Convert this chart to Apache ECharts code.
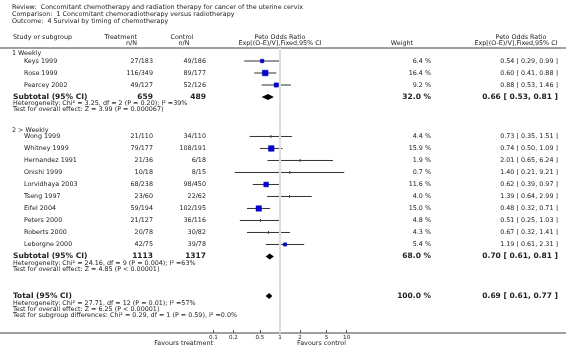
<!DOCTYPE html>
<html><head><meta charset="utf-8">
<script src="https://cdn.jsdelivr.net/npm/echarts@6/dist/echarts.min.js"></script>
<style>html,body{margin:0;padding:0;background:#fff}#c{width:566px;height:356px}</style>
</head><body><div id="c"></div>
<script>
// ---------- data ----------
const reviewTitle = 'Review:  Concomitant chemotherapy and radiation therapy for cancer of the uterine cervix';
const comparisonTitle = 'Comparison:  1 Concomitant chemoradiotherapy versus radiotherapy';
const outcomeTitle = 'Outcome:  4 Survival by timing of chemotherapy';

const groupNames = ['1 Weekly', '2 > Weekly'];
const studyGroup = [0,0,0,1,1,1,1,1,1,1,1,1,1];
const studies = ['Keys 1999','Rose 1999','Pearcey 2002','Wong 1999','Whitney 1999','Hernandez 1991','Onishi 1999','Lorvidhaya 2003','Tseng 1997','Eifel 2004','Peters 2000','Roberts 2000','Leborgne 2000'];
const treatEvents = [27,116,49,21,79,21,10,68,23,59,21,20,42];
const treatTotal = [183,349,127,110,177,36,18,238,60,194,127,78,75];
const ctrlEvents = [49,89,52,34,108,6,8,98,22,102,36,30,39];
const ctrlTotal = [186,177,126,110,191,18,15,450,62,195,116,82,78];
const weights = [6.4,16.4,9.2,4.4,15.9,1.9,0.7,11.6,4.0,15.0,4.8,4.3,5.4];
const oddsRatio = [0.54,0.60,0.88,0.73,0.74,2.01,1.40,0.62,1.39,0.48,0.51,0.67,1.19];
const ciLow = [0.29,0.41,0.53,0.35,0.50,0.65,0.21,0.39,0.64,0.32,0.25,0.32,0.61];
const ciHigh = [0.99,0.88,1.46,1.51,1.09,6.24,9.21,0.97,2.99,0.71,1.03,1.41,2.31];

const subTreat = [659,1113];
const subCtrl = [489,1317];
const subWeight = [32.0,68.0];
const subOR = [0.66,0.70];
const subLow = [0.53,0.61];
const subHigh = [0.81,0.81];
const subHet = ['Heterogeneity: Chi\u00b2 = 3.25, df = 2 (P = 0.20); I\u00b2 =39%', 'Heterogeneity: Chi\u00b2 = 24.16, df = 9 (P = 0.004); I\u00b2 =63%'];
const subTest = ['Test for overall effect: Z = 3.99 (P = 0.000067)', 'Test for overall effect: Z = 4.85 (P < 0.00001)'];

const totalLabel = 'Total (95% CI)';
const totalWeight = 100.0;
const totalOR = 0.69, totalLow = 0.61, totalHigh = 0.77;
const totalNotes = ['Heterogeneity: Chi\u00b2 = 27.71, df = 12 (P = 0.01); I\u00b2 =57%', 'Test for overall effect: Z = 6.25 (P < 0.00001)', 'Test for subgroup differences: Chi\u00b2 = 0.29, df = 1 (P = 0.59), I\u00b2 =0.0%'];

const tickValues = [0.1,0.2,0.5,1,2,5,10];
const favoursLeft = 'Favours treatment', favoursRight = 'Favours control';

// ---------- layout ----------
const W = 566, H = 356;
const gridTop = 48, gridBottomY = 333, rowPx = 12, firstRowY = 61;
const xOne = 280, pxPerDecade = 66.67;
const FONT = '"DejaVu Sans", Verdana, sans-serif';
const TXT = '#222';
const FS = 6.4, FS_BOLD = 7.5;
const colName = 24, colHead = 12, colTreat = 153, colCtrl = 206, colWeight = 431, colCI = 558;
// row offsets measured from the first study row (row units of 12px)
const groupHeaderRow = [-0.67, 5.75];
const firstStudyRow = [0, 6.29];
const totalRow = 19.58;

const fmtCI = (o,l,h) => o.toFixed(2) + ' [ ' + l.toFixed(2) + ', ' + h.toFixed(2) + ' ]';
const lg = v => Math.log10(v);

const rows = [];
const studyRows = [];
const subRows = [];
groupNames.forEach((g, gi) => {
  rows.push({y: groupHeaderRow[gi], cells: [{t: g, x: colHead, a: 'left'}]});
  let r = firstStudyRow[gi];
  studies.forEach((s, i) => {
    if (studyGroup[i] !== gi) return;
    studyRows[i] = r;
    rows.push({y: r, cells: [
      {t: s, x: colName, a: 'left'},
      {t: treatEvents[i] + '/' + treatTotal[i], x: colTreat, a: 'right'},
      {t: ctrlEvents[i] + '/' + ctrlTotal[i], x: colCtrl, a: 'right'},
      {t: weights[i].toFixed(1) + ' %', x: colWeight, a: 'right'},
      {t: fmtCI(oddsRatio[i], ciLow[i], ciHigh[i]), x: colCI, a: 'right'}
    ]});
    r += 1;
  });
  subRows[gi] = r;
  rows.push({y: r, bold: true, cells: [
    {t: 'Subtotal (95% CI)', x: colHead + 1, a: 'left'},
    {t: String(subTreat[gi]), x: colTreat, a: 'right'},
    {t: String(subCtrl[gi]), x: colCtrl, a: 'right'},
    {t: subWeight[gi].toFixed(1) + ' %', x: colWeight, a: 'right'},
    {t: fmtCI(subOR[gi], subLow[gi], subHigh[gi]), x: colCI, a: 'right'}
  ]});
  rows.push({y: r + 0.54, cells: [{t: subHet[gi], x: colHead + 1, a: 'left'}]});
  rows.push({y: r + 1.04, cells: [{t: subTest[gi], x: colHead + 1, a: 'left'}]});
});
rows.push({y: totalRow, bold: true, cells: [
  {t: totalLabel, x: colHead + 1, a: 'left'},
  {t: totalWeight.toFixed(1) + ' %', x: colWeight, a: 'right'},
  {t: fmtCI(totalOR, totalLow, totalHigh), x: colCI, a: 'right'}
]});
totalNotes.forEach((n, k) => rows.push({y: totalRow + 0.58 + 0.5 * k, cells: [{t: n, x: colHead + 1, a: 'left'}]}));

const diamonds = [];
subOR.forEach((o, gi) => diamonds.push([lg(subLow[gi]), lg(o), lg(subHigh[gi]), subRows[gi]]));
diamonds.push([lg(totalLow), lg(totalOR), lg(totalHigh), totalRow]);

const chart = echarts.init(document.getElementById('c'), null, {renderer: 'canvas'});
const xMin = -xOne / pxPerDecade, xMax = (W - xOne) / pxPerDecade;
const yMin = -(firstRowY - gridTop) / rowPx, yMax = (gridBottomY - firstRowY) / rowPx;
const tickLogs = tickValues.map(lg);

function txt(t, x, y, opts) {
  return {type: 'text', silent: true, style: Object.assign({text: t, x: x, y: y, fill: TXT, fontSize: FS, fontFamily: FONT, align: 'left', verticalAlign: 'middle'}, opts || {})};
}

chart.setOption({
  animation: false,
  backgroundColor: '#fff',
  grid: {left: 0, right: 0, top: gridTop, bottom: H - gridBottomY},
  xAxis: [{
    type: 'value', position: 'bottom', min: xMin, max: xMax,
    axisLine: {show: true, onZero: false, lineStyle: {color: '#a0a0a0', width: 2}},
    axisTick: {show: true, inside: true, length: 3, customValues: tickLogs, lineStyle: {color: '#555', width: 1}},
    axisLabel: {show: true, customValues: tickLogs, margin: 2, fontSize: 5.6, fontFamily: FONT, color: TXT,
      formatter: v => { let best = tickValues[0]; tickValues.forEach(t => { if (Math.abs(lg(t) - v) < Math.abs(lg(best) - v)) best = t; }); return String(best); }},
    splitLine: {show: false}
  }, {
    type: 'value', position: 'top', min: xMin, max: xMax,
    axisLine: {show: true, onZero: false, lineStyle: {color: '#a0a0a0', width: 2}},
    axisTick: {show: false}, axisLabel: {show: false}, splitLine: {show: false}
  }],
  yAxis: {type: 'value', inverse: true, min: yMin, max: yMax, show: false},
  graphic: [
    txt(reviewTitle, 12, 7),
    txt(comparisonTitle, 12, 14),
    txt(outcomeTitle, 12, 21),
    txt('Study or subgroup', 13, 37),
    txt('Treatment', 137, 37, {align: 'right'}),
    txt('n/N', 137, 43, {align: 'right'}),
    txt('Control', 182, 37, {align: 'center'}),
    txt('n/N', 184, 43, {align: 'center'}),
    txt('Peto Odds Ratio', xOne, 37, {align: 'center'}),
    txt('Exp[(O-E)/V],Fixed,95% CI', xOne, 43, {align: 'center'}),
    txt('Weight', 413, 43, {align: 'right'}),
    txt('Peto Odds Ratio', 521, 37, {align: 'center'}),
    txt('Exp[(O-E)/V],Fixed,95% CI', 516, 43, {align: 'center'}),
    txt(favoursLeft, 213, 343, {align: 'right'}),
    txt(favoursRight, 346, 343, {align: 'right'})
  ],
  series: [
    {
      type: 'custom', z: 3,
      data: studies.map((s, i) => [lg(ciLow[i]), lg(ciHigh[i]), lg(oddsRatio[i]), studyRows[i], weights[i]]),
      renderItem: (params, api) => {
        const a = api.coord([api.value(0), api.value(3)]);
        const b = api.coord([api.value(1), api.value(3)]);
        const c = api.coord([api.value(2), api.value(3)]);
        const ch = [{type: 'line', shape: {x1: a[0], y1: a[1], x2: b[0], y2: b[1]}, style: {stroke: '#333', lineWidth: 1}}];
        if (api.value(4) < 5) ch.push({type: 'rect', shape: {x: c[0] - 0.5, y: c[1] - 1.5, width: 1, height: 3}, style: {fill: '#444'}});
        return {type: 'group', children: ch};
      }
    },
    {
      type: 'scatter', z: 4, symbol: 'rect',
      data: studies.map((s, i) => [lg(oddsRatio[i]), studyRows[i], weights[i]]),
      symbolSize: v => v[2] >= 5 ? 1.4 * Math.sqrt(v[2]) : 0,
      itemStyle: {color: '#0000e6', borderColor: '#000090', borderWidth: 0.5, opacity: 1},
      markLine: {silent: true, symbol: 'none', label: {show: false},
        lineStyle: {color: '#dcdcdc', width: 2, type: 'solid'}, data: [{xAxis: 0}]}
    },
    {
      type: 'custom', z: 4,
      data: diamonds,
      renderItem: (params, api) => {
        const y = api.value(3);
        const l = api.coord([api.value(0), y]), m = api.coord([api.value(1), y]), r = api.coord([api.value(2), y]);
        return {type: 'polygon', shape: {points: [[l[0], l[1]], [m[0], m[1] - 3], [r[0], r[1]], [m[0], m[1] + 3]]}, style: {fill: '#000'}};
      }
    },
    {
      type: 'custom', z: 5,
      data: rows.map((r, i) => [0, r.y, i]),
      renderItem: (params, api) => {
        const r = rows[api.value(2)];
        const y = api.coord([0, api.value(1)])[1];
        return {type: 'group', children: r.cells.map(c => ({type: 'text', silent: true, style: {
          text: c.t, x: c.x, y: y, align: c.a, verticalAlign: 'middle', fill: TXT, fontFamily: FONT,
          fontSize: r.bold ? FS_BOLD : FS, fontWeight: r.bold ? 'bold' : 'normal'}}))};
      }
    }
  ]
});
</script></body></html>
